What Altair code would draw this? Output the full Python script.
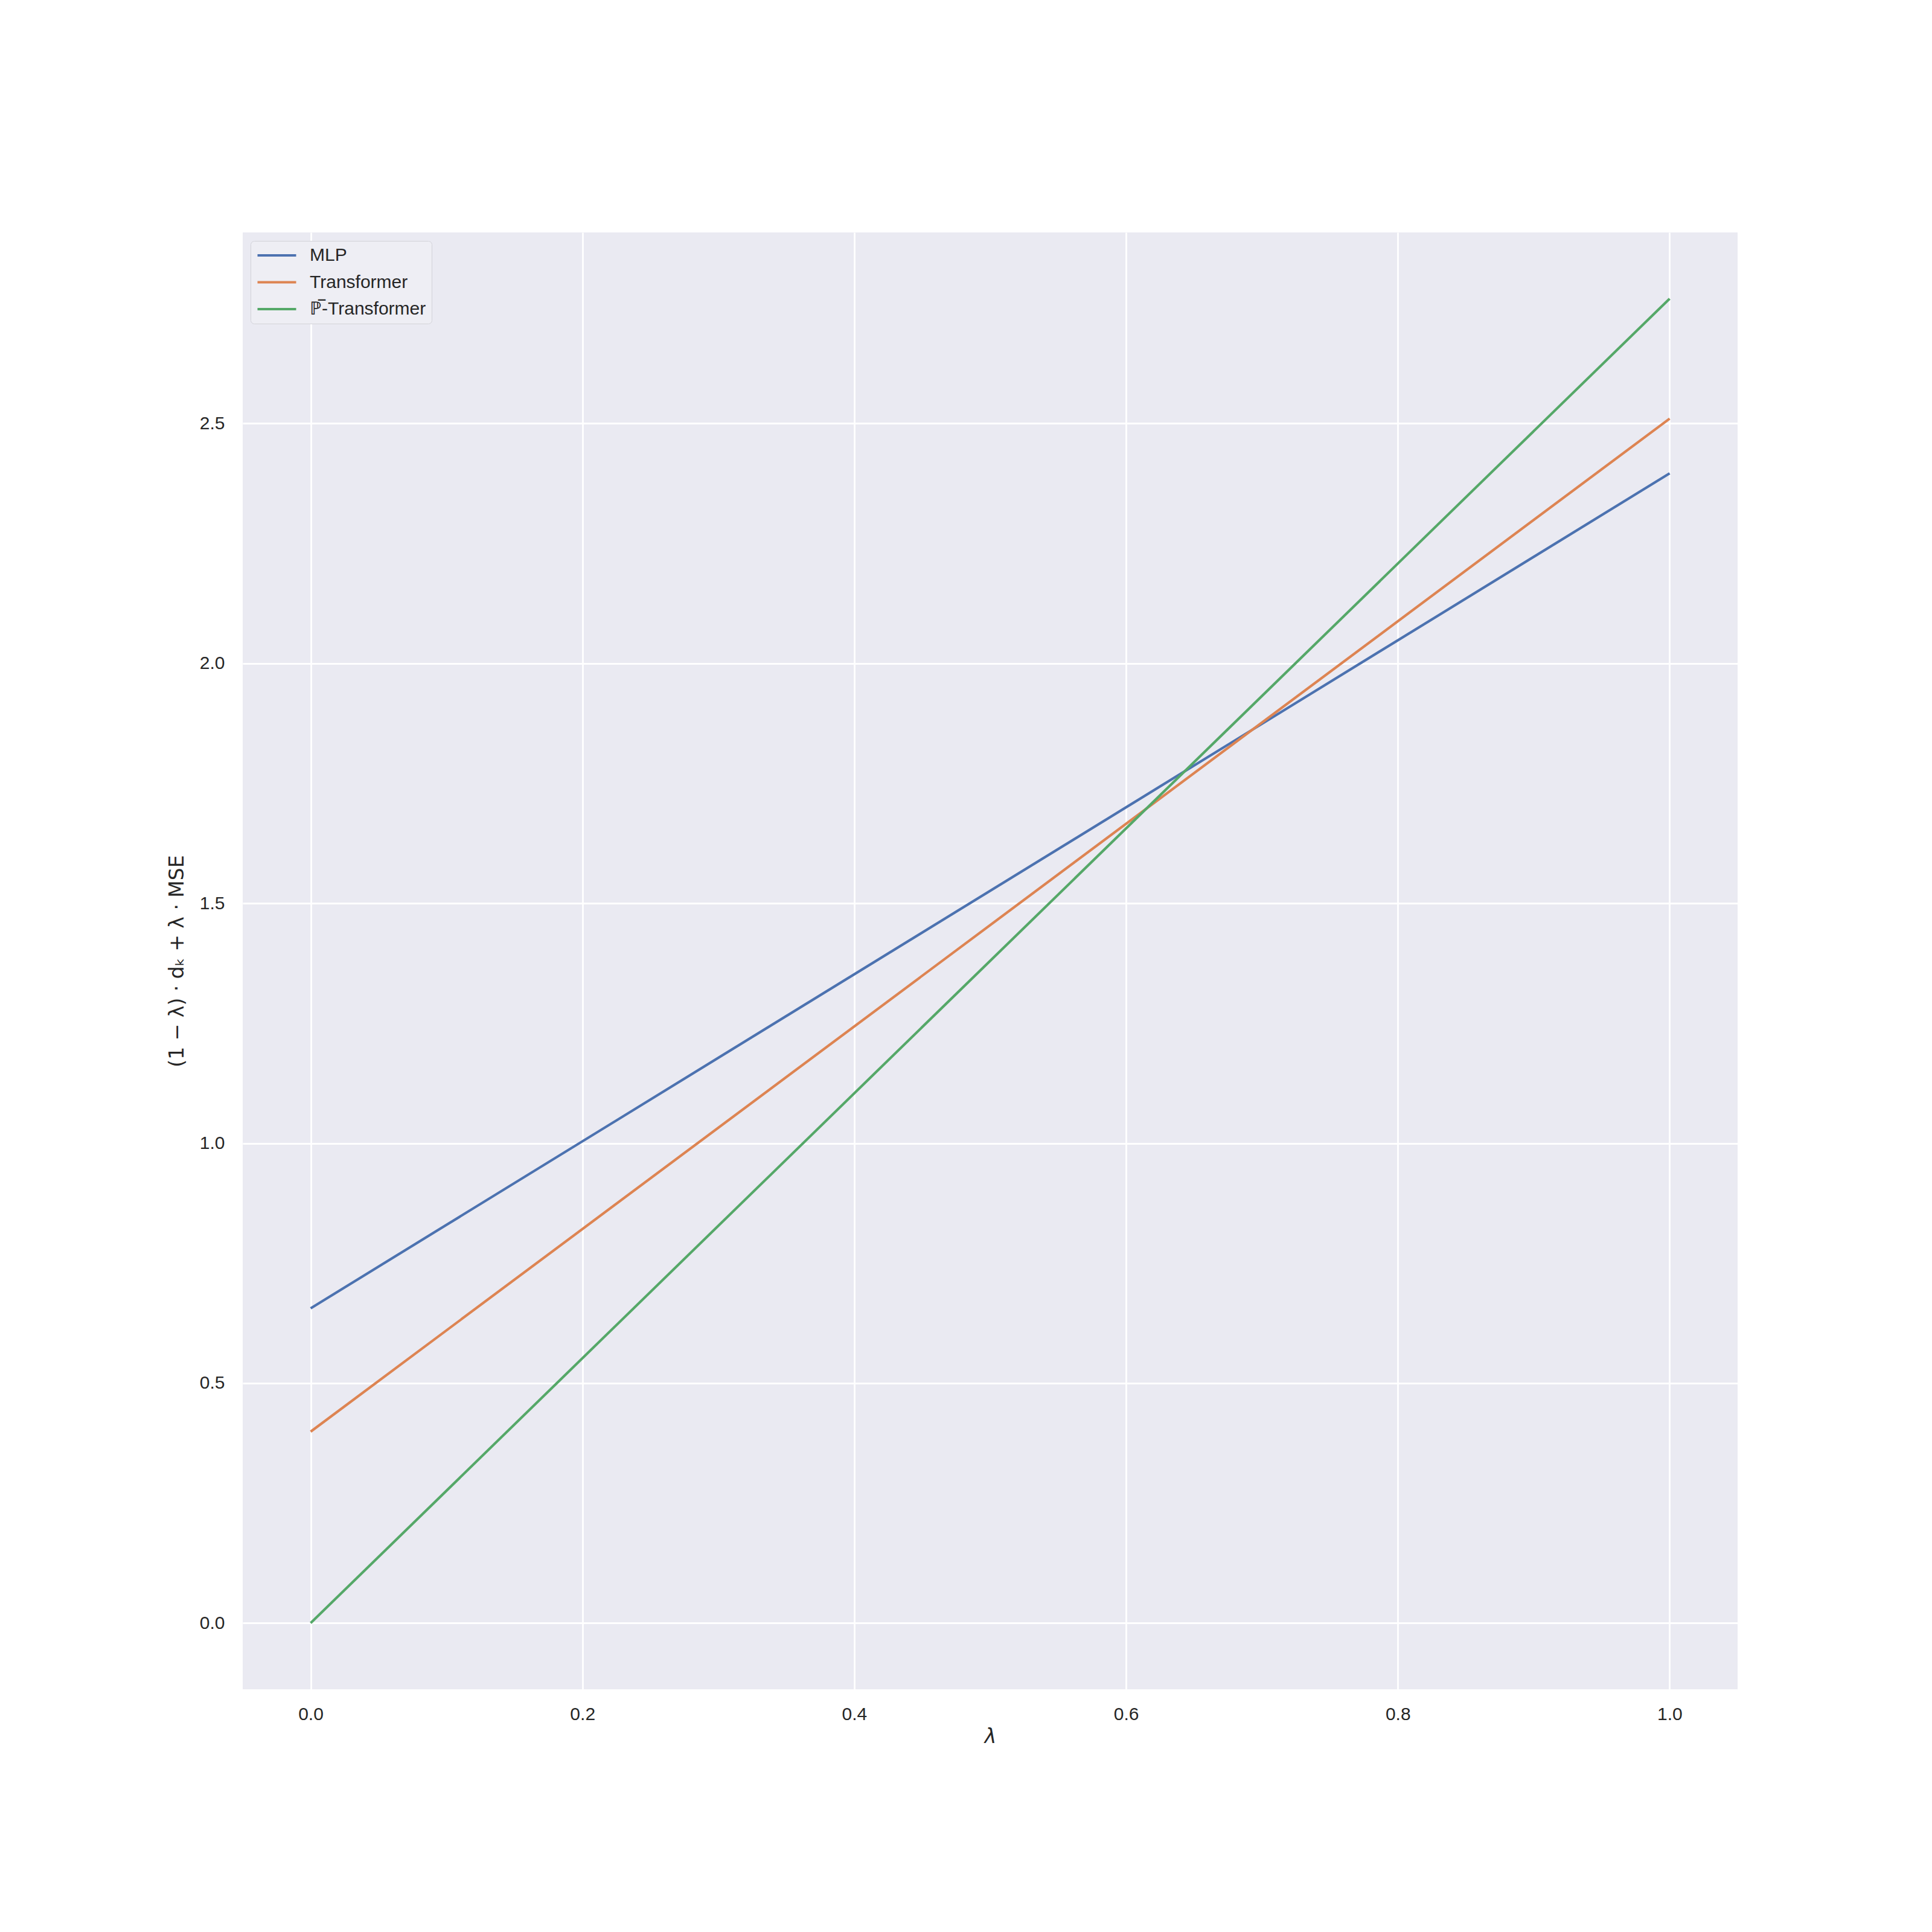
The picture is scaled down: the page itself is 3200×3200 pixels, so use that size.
import altair as alt
import pandas as pd

lam = [0.0, 1.0]
mlp = [0.656, 2.396]
transformer = [0.399, 2.510]
pbar_transformer = [0.0, 2.760]

series_names = ["MLP", "Transformer", "ℙ̅-Transformer"]
series_values = [mlp, transformer, pbar_transformer]
colors = ["#4C72B0", "#DD8452", "#55A868"]

x_ticks = [0.0, 0.2, 0.4, 0.6, 0.8, 1.0]
y_ticks = [0.0, 0.5, 1.0, 1.5, 2.0, 2.5]

rows = []
for name, vals in zip(series_names, series_values):
    for l, v in zip(lam, vals):
        rows.append({"lam": l, "value": v, "series": name})
df = pd.DataFrame(rows)

TEXT = "#262626"

chart = alt.Chart(df).mark_line(strokeWidth=4.2, clip=True).encode(
    x=alt.X("lam:Q",
            scale=alt.Scale(domain=[-0.05, 1.05], nice=False, zero=False),
            axis=alt.Axis(values=x_ticks, format=".1f", title="λ",
                          titleFontStyle="italic", titleFont="DejaVu Sans",
                          titleFontSize=33, titleFontWeight="normal",
                          titlePadding=6,
                          labelPadding=26)),
    y=alt.Y("value:Q",
            scale=alt.Scale(domain=[-0.138, 2.898], nice=False, zero=False),
            axis=alt.Axis(values=y_ticks, format=".1f",
                          title="(1 − λ) · dₖ + λ · MSE",
                          titleFont="DejaVu Sans", titleFontSize=33,
                          titleFontWeight="normal", titlePadding=20,
                          labelPadding=30)),
    color=alt.Color("series:N",
                    scale=alt.Scale(domain=series_names, range=colors),
                    sort=series_names,
                    legend=alt.Legend(title=None, orient="none",
                                      legendX=13, legendY=14,
                                      symbolType="stroke",
                                      symbolSize=4096,
                                      symbolStrokeWidth=4.2,
                                      clipHeight=30,
                                      labelFontSize=30,
                                      labelFont="Liberation Sans",
                                      labelColor=TEXT,
                                      labelLimit=600,
                                      labelOffset=20,
                                      rowPadding=14.5,
                                      padding=9,
                                      fillColor="#EEEEF4",
                                      strokeColor="#D2D2D8",
                                      cornerRadius=6)),
).properties(
    width=2476,
    height=2413,
    autosize=alt.AutoSizeParams(type="none"),
    padding={"left": 394, "top": 377, "right": 314, "bottom": 394},
).configure_view(
    fill="#EAEAF2", stroke=None
).configure_axis(
    grid=True, gridColor="#FFFFFF", gridWidth=2.8,
    domain=False, ticks=False,
    labelFont="Liberation Sans", labelFontSize=30, labelColor=TEXT,
    titleColor=TEXT,
).configure_axisY(
    labelAlign="right"
)

chart.save("out.html", embed_options={"renderer": "svg", "actions": False})
